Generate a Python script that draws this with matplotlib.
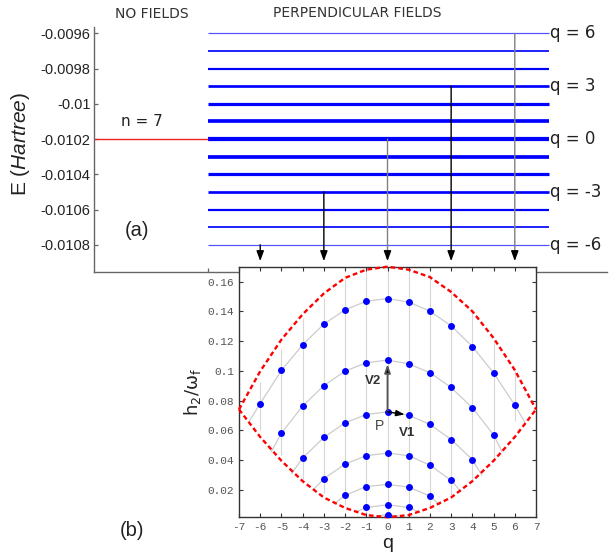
import matplotlib
matplotlib.use('Agg')
import matplotlib.pyplot as plt
from matplotlib.patches import ConnectionPatch
import numpy as np

plt.rcParams['font.family'] = 'DejaVu Sans'
plt.rcParams['mathtext.fontset'] = 'custom'
plt.rcParams['mathtext.rm'] = 'Liberation Sans'
plt.rcParams['mathtext.it'] = 'Liberation Sans:italic'
plt.rcParams['mathtext.bf'] = 'Liberation Sans:bold'

# ---- (a) Stark/Zeeman split levels of the n = 7 manifold ----
q_levels = np.arange(-6, 7)
energies = [-0.0108, -0.0107, -0.0106, -0.0105, -0.0104, -0.0103, -0.0102,
            -0.0101, -0.0100, -0.0099, -0.0098, -0.0097, -0.0096]
degeneracy = [1, 2, 3, 4, 5, 6, 7, 6, 5, 4, 3, 2, 1]
n_level = 7
e_unperturbed = -0.0102
labelled_q = [6, 3, 0, -3, -6]
arrow_q = [-6, -3, 0, 3, 6]
arrow_colors = ['black', 'black', '#808080', 'black', '#808080']
e_ticks = [-0.0096, -0.0098, -0.0100, -0.0102, -0.0104, -0.0106, -0.0108]

# ---- (b) quantised tori in the (q, h2/omega_f) plane ----
q_grid = np.arange(-7, 8)
env_upper = [0.074, 0.0997, 0.121, 0.138, 0.152, 0.1625, 0.168, 0.170,
             0.168, 0.163, 0.153, 0.140, 0.122, 0.1005, 0.074]
env_lower = [0.074, 0.0555, 0.0395, 0.0258, 0.0148, 0.0078, 0.0030, 0.0015,
             0.0030, 0.0078, 0.0148, 0.0258, 0.0395, 0.0555, 0.074]

vert_q = np.arange(-6, 7)
vert_lo = [0.0604, 0.0436, 0.0267, 0.018, 0.0099, 0.003, 0.0015,
           0.003, 0.009, 0.0166, 0.0267, 0.0416, 0.066]
vert_hi = [0.0928, 0.1147, 0.1356, 0.149, 0.1614, 0.170, 0.170,
           0.170, 0.1648, 0.156, 0.141, 0.121, 0.0997]

h_levels = [
    [0.0780, 0.1002, 0.1175, 0.1314, 0.1410, 0.1468, 0.1486, 0.1462, 0.1401,
     0.1302, 0.1163, 0.0986, 0.0769],
    [0.0581, 0.0763, 0.0900, 0.0998, 0.1054, 0.1072, 0.1047, 0.0987, 0.0888,
     0.0751, 0.0570],
    [0.0413, 0.0552, 0.0650, 0.0706, 0.0724, 0.0702, 0.0639, 0.0538, 0.0402],
    [0.0274, 0.0373, 0.0429, 0.0447, 0.0429, 0.0366, 0.0263],
    [0.0162, 0.0222, 0.0236, 0.0218, 0.0158],
    [0.0081, 0.0099, 0.0081],
    [0.0032],
]
curve_left = [(-6.52, 0.066), (-5.47, 0.0458), (-4.52, 0.031), (-3.5, 0.020),
              (-2.48, 0.011), (-1.5, 0.005), (-0.5, 0.0025)]
curve_right = [(6.49, 0.065), (5.39, 0.0458), (4.44, 0.030), (3.45, 0.019),
               (2.45, 0.010), (1.5, 0.005), (0.5, 0.0025)]
y_ticks = [0.02, 0.04, 0.06, 0.08, 0.10, 0.12, 0.14, 0.16]

fig = plt.figure(figsize=(6.1, 5.57), dpi=100)

bx0, by0, bw, bh = 0.3918, 0.0713, 0.4869, 0.4499
tx0, ty0, tw, th = 0.1541, 0.5122, 0.8410, 0.4393
ax_top = fig.add_axes([tx0, ty0, tw, th])
ax_bot = fig.add_axes([bx0, by0, bw, bh])

# top panel uses the same q scale horizontally so the arrows drop straight down
q_per_fig = 14 / bw
xl = -7 + (tx0 - bx0) * q_per_fig
xr = -7 + (tx0 + tw - bx0) * q_per_fig
line_start, line_end = -8.46, 7.61

level_colors = ['#5050ff' if d == 1 else '#0000ff' for d in degeneracy]
ax_top.hlines(energies, line_start, line_end, colors=level_colors,
              linewidths=[0.5 + 0.36 * d for d in degeneracy])
ax_top.hlines(e_unperturbed, xl, line_start, colors='#ee2222', linewidth=1.0)
ax_top.set_xlim(xl, xr)
ax_top.set_ylim(-0.010953, -0.009564)

for q in labelled_q:
    e = energies[list(q_levels).index(q)]
    ax_top.text(line_end + 0.05, e, f'q = {q}', ha='left', va='center',
                fontsize=12, color='#222222')
ax_top.text(-11.57, e_unperturbed + 0.0001, f'n = {n_level}', ha='center',
            va='center', fontsize=11, color='#222222')

ax_top.set_yticks(e_ticks)
ax_top.set_yticklabels(['%g' % v for v in e_ticks])
ax_top.set_xticks([line_start])
ax_top.set_xticklabels([])
ax_top.tick_params(direction='in', length=3.2, width=0.9, color='#666666',
                   labelsize=10.5, labelcolor='#222222', pad=2.5,
                   labelfontfamily='Liberation Sans')
for side in ['top', 'right']:
    ax_top.spines[side].set_visible(False)
for side in ['left', 'bottom']:
    ax_top.spines[side].set_color('#666666')
    ax_top.spines[side].set_linewidth(1.0)
ax_top.set_ylabel(r'E ($\mathit{Hartree}$)', fontsize=15,
                  family='Liberation Sans', color='#222222')
ax_top.yaxis.set_label_coords(-0.12, 0.52)

# bottom panel
ax_bot.vlines(vert_q, vert_lo, vert_hi, colors='#d6d6d6', linewidth=0.8, zorder=1)
for h, (lq, lh), (rq, rh) in zip(h_levels, curve_left, curve_right):
    m = (len(h) - 1) // 2
    qs = np.arange(-m, m + 1)
    ax_bot.plot([lq] + list(qs) + [rq], [lh] + h + [rh], color='#cccccc',
                linewidth=0.9, zorder=2)
    ax_bot.plot(qs, h, 'o', color='blue', markersize=5, mec='none', zorder=4)

for env in (env_upper, env_lower):
    ax_bot.plot(q_grid, env, color='red', linestyle=(0, (2.0, 1.3)),
                linewidth=1.7, zorder=3, clip_on=False)

ax_bot.set_xlim(-7, 7)
ax_bot.set_ylim(min(env_lower), max(env_upper))

# basis vectors at the lattice point P
p0 = (0, h_levels[2][4])
ax_bot.annotate('', xy=(0, h_levels[1][5]), xytext=p0,
                arrowprops=dict(arrowstyle='-|>,head_length=0.5,head_width=0.18',
                                fc='black', ec='#555555', lw=1.3,
                                shrinkA=0, shrinkB=3), zorder=5)
ax_bot.annotate('', xy=(1, h_levels[2][5]), xytext=p0,
                arrowprops=dict(arrowstyle='-|>,head_length=0.5,head_width=0.18',
                                color='black', lw=1.0, shrinkA=0, shrinkB=3),
                zorder=5)
ax_bot.text(-0.68, 0.093, 'V2', ha='center', va='center', fontsize=9.5,
            fontweight='bold', family='Liberation Sans', color='#333333')
ax_bot.text(-0.4, 0.0626, 'P', ha='center', va='center', fontsize=10,
            family='Liberation Sans', color='#444444')
ax_bot.text(0.9, 0.058, 'V1', ha='center', va='center', fontsize=9.5,
            fontweight='bold', family='Liberation Sans', color='#333333')

ax_bot.set_xticks(q_grid)
ax_bot.set_xticklabels([str(v) for v in q_grid])
ax_bot.set_yticks(y_ticks)
ax_bot.set_yticklabels(['%g' % v for v in y_ticks])
ax_bot.tick_params(direction='in', top=True, right=True, length=3, width=0.8,
                   color='#333333', labelsize=8, labelcolor='#555555', pad=3.5,
                   labelfontfamily='Liberation Mono')
for s in ax_bot.spines.values():
    s.set_color('#333333')
    s.set_linewidth(1.0)
ax_bot.set_xlabel('q', fontsize=14, family='Liberation Sans', labelpad=2,
                  color='#222222')
ax_bot.set_ylabel(r'$\mathregular{h_2/\omega_f}$', fontsize=13, color='#222222')
ax_bot.yaxis.set_label_coords(-0.12, 0.5)

# arrows from selected levels down to the lattice: coloured shaft, black head
y_top = ax_bot.get_ylim()[1]
head_span = 0.008
for q, c in zip(arrow_q, arrow_colors):
    e = energies[list(q_levels).index(q)]
    shaft = ConnectionPatch(xyA=(q, e), coordsA=ax_top.transData,
                            xyB=(q, y_top + head_span), coordsB=ax_bot.transData,
                            arrowstyle='-', color=c, linewidth=1.0,
                            shrinkA=0, shrinkB=0)
    fig.add_artist(shaft)
    head = ConnectionPatch(xyA=(q, y_top + head_span + 0.001),
                           coordsA=ax_bot.transData,
                           xyB=(q, y_top), coordsB=ax_bot.transData,
                           arrowstyle='-|>,head_length=0.6,head_width=0.22',
                           mutation_scale=10, color='black',
                           linewidth=1.0, shrinkA=0, shrinkB=4)
    fig.add_artist(head)

fig.text(152 / 610, 1 - 14 / 557, 'NO FIELDS', ha='center', va='center',
         fontsize=10, color='#333333')
fig.text(357 / 610, 1 - 13 / 557, 'PERPENDICULAR FIELDS', ha='center',
         va='center', fontsize=10, color='#333333')
fig.text(137 / 610, 1 - 231 / 557, '(a)', ha='center', va='center',
         fontsize=14.5, family='Liberation Sans', color='#222222')
fig.text(132 / 610, 1 - 531 / 557, '(b)', ha='center', va='center',
         fontsize=14.5, family='Liberation Sans', color='#222222')

fig.savefig('out.png', dpi=100)
